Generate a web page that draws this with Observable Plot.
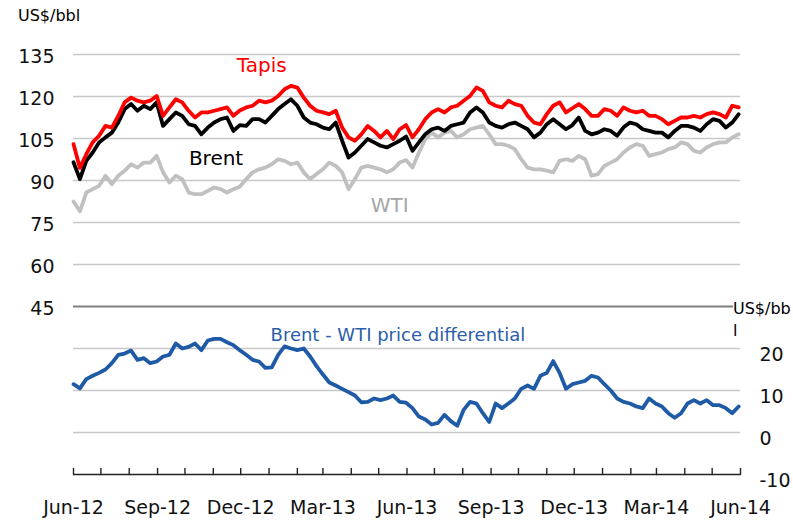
<!DOCTYPE html>
<html><head><meta charset="utf-8">
<script src="https://cdn.jsdelivr.net/npm/d3@7"></script>
<script src="https://cdn.jsdelivr.net/npm/@observablehq/plot@0.6"></script>
<style>
body{margin:0;background:#fff;}
#wrap{position:relative;width:793px;height:522px;font-family:"DejaVu Sans",sans-serif;}
.unit{position:absolute;font-size:16px;color:#000;line-height:22px;white-space:pre;}
</style>
</head><body>
<div id="wrap">
<div id="chart"></div>
<div class="unit" style="left:18px;top:5px;">US$/bbl</div>
<div class="unit" style="left:733px;top:298px;background:#fff;">US$/bb
l</div>
</div>
<script>
// Weekly readings from 1 Jun 2012 to end May 2014 (US$/bbl)
const tapis = [103.0,94.5,99.4,103.6,106,109.5,108.9,113.1,117.9,119.6,118.5,117.9,118.5,120.2,113.1,116.1,119,117.9,114.9,112.5,114.3,114.3,114.9,115.5,116.1,113.1,
115,116.1,116.7,118.5,117.9,118.5,120.2,122.6,123.8,123.2,119.6,116.7,114.9,114.3,113.7,114.9,108.9,105.4,104.2,106.5,109.5,107.7,105.4,107.7,104.8,108.3,
109.8,105.4,108.3,111.9,114.3,115.5,114.3,116.1,116.7,118.5,120.2,123.2,122,117.9,116.7,116.1,118.5,117.3,116.7,113.1,110.7,110.1,113.7,116.7,117.9,114.3,
115.8,117.3,115.5,113.1,113.1,115.5,114.9,113.1,116.1,114.9,114.3,114.9,113.1,113.1,111.9,110.1,111.3,112.5,112.5,113.1,112.5,113.7,114.3,113.7,112.5,116.7,116.1];
const brent = [96.5,90.5,97,100,103.6,105.4,107.1,110.7,115.5,117.3,114.9,116.7,115.5,117.9,109.5,111.9,114.3,113.1,110.1,109.5,106.5,108.9,110.7,111.9,112.5,107.7,
109.8,109.5,111.9,111.9,110.7,113.1,115.5,117.3,119,116.7,112.5,110.7,110.1,108.9,108.3,110.7,104.2,98.2,100,102.4,104.8,103.6,102.4,101.8,103,104.2,
105.7,100.6,103.6,106.5,108.3,108.9,107.7,109.5,110.1,110.7,114.3,116.1,114.3,110.7,109.5,108.9,110.1,110.7,109.5,108.3,105.4,107.1,110.1,111.9,110.1,108.3,
109.8,112.5,107.7,106.5,107.1,108.3,107.7,106,109,110.7,110.1,108.3,107.7,107.1,107.1,105.4,107.7,109.5,109.5,108.9,107.7,110.1,111.9,111.3,108.9,110.7,113.7];
const wti = [82.5,79,85.7,86.9,88.1,91.7,88.7,91.7,93.5,95.8,94.6,96.4,96.4,98.8,92.9,89.3,91.7,90.5,85.7,85.1,85.1,86.3,87.5,86.9,85.7,86.9,
87.8,90.5,92.9,94,94.6,95.8,97.6,97,95.8,96.4,92.9,90.5,92.3,94,96.4,95.2,92.9,86.9,90.5,94.6,95.2,94.6,94,92.9,94,96.4,
97.3,94.6,100,104.8,107.1,105.4,107.1,107.7,105.4,106.5,108.3,108.9,109.5,106.5,103,103,102.4,101.2,97.6,94.6,94,94,93.5,92.9,97,97.6,
97,98.8,97.6,91.7,92.3,95.2,96.4,97.6,100,101.8,103,102.4,98.8,99.4,100,101.2,101.8,103.6,103,100.6,100,101.8,103,103.6,103.6,105.4,106.5];
// Brent - WTI price differential (US$/bbl, right axis)
const differential = [11.5,10.5,12.7,13.5,14.2,15,16.5,18.5,18.8,19.5,17.3,17.7,16.5,16.9,18.1,18.5,21.2,20,20.4,21.2,19.6,21.9,22.3,22.3,21.5,20.8,
19.6,18.5,17.3,16.9,15.4,15.5,18.5,20.5,20,19.6,20,18.1,15.8,13.8,11.9,11.2,10.4,9.6,8.8,7.2,7.3,8.1,7.7,8.1,8.8,7.3,
7.1,5.8,3.8,3.1,1.9,2.3,4.2,2.7,1.6,5.4,7.3,6.9,4.6,2.5,6.9,5.8,6.9,8.1,10.4,11.2,10.4,13.5,14.2,17,14.2,10.4,
11.5,11.9,12.3,13.5,13.1,11.5,10,8.1,7.3,6.9,6.2,5.8,8.1,6.9,6.2,4.6,3.5,4.6,6.9,7.7,6.9,7.7,6.5,6.5,5.8,4.6,6.2];

const priceTicks = [45, 60, 75, 90, 105, 120, 135];
const diffTicks = [-10, 0, 10, 20];
const seriesLabels = [
  {text: "Tapis", date: "2012-12-24", value: 131.1, color: "#ff0000", axis: "price"},
  {text: "Brent", date: "2012-11-04", value: 97.9, color: "#000000", axis: "price"},
  {text: "WTI", date: "2013-05-13", value: 81.2, color: "#a6a6a6", axis: "price"},
  {text: "Brent - WTI price differential", date: "2013-05-22", value: 23.1, color: "#2a5ea8", axis: "diff"}
];

// differential shares the price scale: 1 unit = 1.5 price units, 30 sits on the 45 line
const toPrice = d => 45 + (d - 30) * 1.5;
const fromPrice = p => (p - 45) / 1.5 + 30;

const start = new Date(Date.UTC(2012, 5, 1));
const end = new Date(Date.UTC(2014, 5, 1));
const dates = tapis.map((_, i) => d3.utcDay.offset(start, 7 * i));
const rows = dates.map((date, i) => ({date, tapis: tapis[i], brent: brent[i], wti: wti[i], diff: differential[i]}));
const monthTicks = d3.utcMonth.range(start, d3.utcDay.offset(end, 1));
const labelTicks = d3.utcMonth.range(start, d3.utcDay.offset(end, 1), 3);
const labs = seriesLabels.map(d => ({...d, x: new Date(d.date), y: d.axis === "diff" ? toPrice(d.value) : d.value}));
const upTick = {draw(context, l) { context.moveTo(0, 0); context.lineTo(0, -l); }};

const chart = Plot.plot({
  width: 793, height: 522,
  marginLeft: 73, marginRight: 53, marginTop: 54, marginBottom: 48,
  style: {fontFamily: "DejaVu Sans, sans-serif", background: "#fff", overflow: "visible"},
  x: {type: "utc", domain: [start, end]},
  y: {domain: [-15, 135]},
  marks: [
    Plot.ruleY([60, 75, 90, 105, 120, 135, 30, 15, 0], {stroke: "#c8c8c8", strokeWidth: 1.3}),
    Plot.ruleY([45], {stroke: "#7f7f7f", strokeWidth: 2.2}),
    Plot.ruleY([-15], {stroke: "#222", strokeWidth: 1.4}),
    Plot.vector(monthTicks, {x: d => d, y: -15, length: 6, rotate: 0, anchor: "start", shape: upTick, stroke: "#222", strokeWidth: 1.4}),
    Plot.axisY({anchor: "left", ticks: priceTicks, tickSize: 0, tickPadding: 19, fontSize: 19, dy: 2, label: null, fill: "#111"}),
    Plot.axisY({anchor: "right", ticks: diffTicks.map(toPrice), tickFormat: v => String(Math.round(fromPrice(v))), tickSize: 0, tickPadding: 19, fontSize: 19, dy: 6, label: null, fill: "#111"}),
    Plot.axisX({ticks: labelTicks, tickSize: 0, tickPadding: 26, tickFormat: d3.utcFormat("%b-%y"), fontSize: 19, label: null, fill: "#111"}),
    Plot.line(rows, {x: "date", y: "wti", stroke: "#c0c0c0", strokeWidth: 3.8}),
    Plot.line(rows, {x: "date", y: "brent", stroke: "#000", strokeWidth: 3.8}),
    Plot.line(rows, {x: "date", y: "tapis", stroke: "#ff0000", strokeWidth: 3.8}),
    Plot.line(rows, {x: "date", y: d => toPrice(d.diff), stroke: "#1f5aa6", strokeWidth: 3.8}),
    Plot.text(labs, {x: "x", y: "y", text: "text", fill: d => d.color, fontSize: d => d.axis === "diff" ? 18 : 20, lineAnchor: "middle"})
  ]
});
document.getElementById("chart").appendChild(chart);
</script>
</body></html>
